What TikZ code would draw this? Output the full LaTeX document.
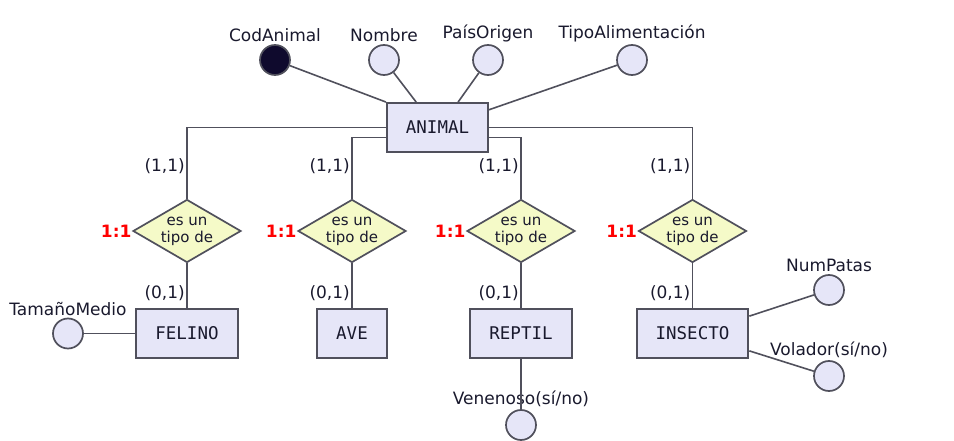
\documentclass[tikz,border=0pt]{standalone}
\usepackage{fontspec}
\setmainfont{DejaVu Sans}
\setmonofont{DejaVu Sans Mono}
\usetikzlibrary{shapes.geometric}

\definecolor{entfill}{RGB}{230,230,248}
\definecolor{isafill}{RGB}{245,250,200}
\definecolor{edgegray}{RGB}{80,80,92}
\definecolor{keyfill}{RGB}{15,10,45}
\definecolor{txt}{RGB}{25,25,45}

\begin{document}
\begin{tikzpicture}[
  x=1pt,y=-1pt,
  entity/.style={draw=edgegray,line width=1.9pt,fill=entfill,minimum height=49pt,inner xsep=19pt,
    font=\ttfamily\fontsize{17.5}{20}\selectfont,text=txt},
  isa/.style={diamond,draw=edgegray,line width=1.7pt,fill=isafill,aspect=1.7,inner sep=0pt,
    minimum width=108pt,minimum height=63pt,align=center,font=\fontsize{15}{17}\selectfont,text=txt},
  attr/.style={circle,draw=edgegray,line width=1.7pt,fill=entfill,minimum size=30pt,inner sep=0pt,
    label distance=-1pt},
  keyattr/.style={attr,fill=keyfill},
  lbl/.style={font=\fontsize{17}{20}\selectfont,text=txt,inner sep=2pt},
  card/.style={lbl,anchor=east},
  ratio/.style={font=\bfseries\fontsize{17}{20}\selectfont,text=red,anchor=east,inner sep=0.5pt},
  link/.style={draw=edgegray,line width=1.6pt}
]
\useasboundingbox (0,0) rectangle (954,441);

% superclass and its attributes
\node[entity] (animal) at (437.5,127.5) {ANIMAL};
\node[keyattr,label={[lbl]above:CodAnimal}] (cod) at (275,60) {};
\node[attr,label={[lbl]above:Nombre}] (nombre) at (384,60) {};
\node[attr,label={[lbl]above:PaísOrigen}] (pais) at (488,60) {};
\node[attr,label={[lbl]above:TipoAlimentación}] (tipo) at (632,60) {};

\draw[link] (cod) -- (animal.north west);
\draw[link] (nombre) -- (animal.130);
\draw[link] (pais) -- (animal.51);
\draw[link] (tipo) -- (animal.19);

% subclasses
\foreach \e/\name/\x/\side/\dy in {felino/FELINO/187/west/0, ave/AVE/352/west/10,
    reptil/REPTIL/521/east/10, insecto/INSECTO/692.5/east/0}{
  \node[isa] (isa-\e) at (\x,231) {es un\\tipo de};
  \node[entity] (\e) at (\x,333.5) {\name};
  \node[ratio] at (isa-\e.west) {1:1};
  \node[card] at (\x,166) {(1,1)};
  \node[card] at (\x,293.5) {(0,1)};
  \draw[link] ([yshift=-\dy pt]animal.\side) -| (isa-\e.north);
  \draw[link] (isa-\e) -- (\e);
}

% subclass attributes
\node[attr,label={[lbl]above:TamañoMedio}] (tamano) at (68,333.5) {};
\node[attr,label={[lbl]above:Venenoso(sí/no)}] (venenoso) at (521,425) {};
\node[attr,label={[lbl]above:NumPatas}] (patas) at (829,290) {};
\node[attr,label={[lbl]above:Volador(sí/no)}] (volador) at (829,376) {};

\draw[link] (tamano) -- (felino);
\draw[link] (reptil) -- (venenoso);
\draw[link] (insecto.17) -- (patas);
\draw[link] (insecto.-17) -- (volador);
\end{tikzpicture}
\end{document}
